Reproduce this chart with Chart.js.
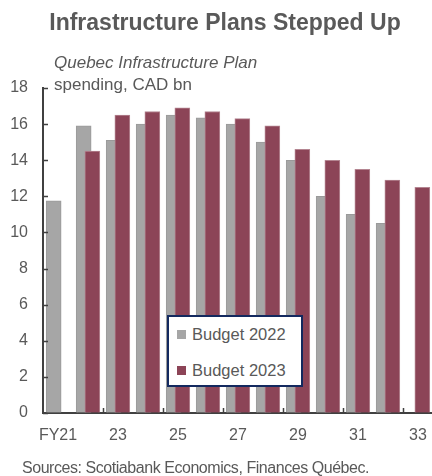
<!DOCTYPE html>
<html lang="en">
<head>
  <meta charset="UTF-8" />
  <title>Infrastructure Plans Stepped Up</title>
  <script src="https://cdn.jsdelivr.net/npm/chart.js"></script>
  <style>
    body { margin: 0; background: #fff; font-family: "Liberation Sans", Arial, sans-serif; color: #595959; }
    .wrap { position: relative; width: 432px; height: 476px; overflow: hidden; }
    canvas { position: absolute; left: 0; top: 0; }
    .title { position: absolute; left: 0; width: 450px; top: 10px; text-align: center; font-weight: bold; font-size: 23px; line-height: 24px; }
    .sub { position: absolute; left: 54px; top: 52px; font-size: 17px; line-height: 22px; }
    .sub i { display: block; }
    .source { position: absolute; left: 22px; top: 459px; font-size: 16px; line-height: 18px; letter-spacing: -0.45px; }
    .legend { position: absolute; left: 167px; top: 315px; width: 136px; height: 72px; box-sizing: border-box;
              border: 2px solid #13295f; background: #fff; z-index: 2; font-size: 16.5px; }
    .legend div { position: absolute; left: 8px; line-height: 20px; }
    .legend span { display: inline-block; width: 9px; height: 9px; margin-right: 6px; vertical-align: 1px; }
  </style>
</head>
<body>
  <div class="wrap">
    <canvas id="chart" width="440" height="476"></canvas>
    <div class="title">Infrastructure Plans Stepped Up</div>
    <div class="sub"><i>Quebec Infrastructure Plan</i>spending, CAD bn</div>
    <div class="legend" id="legend"></div>
    <div class="source">Sources: Scotiabank Economics, Finances Québec.</div>
  </div>

  <script>
    // fiscal years FY21 .. FY33
    const categories = ['FY21', '22', '23', '24', '25', '26', '27', '28', '29', '30', '31', '32', '33'];
    const budget2022 = [11.75, 15.9, 15.1, 16.0, 16.5, 16.35, 16.0, 15.0, 14.0, 12.0, 11.0, 10.5, null];
    const budget2023 = [null, 14.5, 16.5, 16.7, 16.9, 16.7, 16.3, 15.9, 14.6, 14.0, 13.5, 12.9, 12.5];
    const yTicks = [0, 2, 4, 6, 8, 10, 12, 14, 16, 18];
    const seriesNames = ['Budget 2022', 'Budget 2023'];
    const seriesColors = ['#a6a6a6', '#8c4457'];

    const FONT = '"Liberation Sans", Arial, sans-serif';
    const INK = '#595959';

    // bars overlap a bit, as in the original
    function toPoints(arr, shift) {
      return arr.map((v, i) => v == null ? null : { x: i + shift, y: v }).filter(p => p);
    }

    const axisTicks = {
      id: 'axisTicks',
      afterDraw(chart) {
        const c = chart.ctx, x = chart.scales.x, y = chart.scales.y;
        c.save();
        c.strokeStyle = '#404040';
        c.lineWidth = 1.5;
        c.beginPath();
        yTicks.forEach(v => {
          const py = Math.round(y.getPixelForValue(v)) + 0.5;
          c.moveTo(x.left, py); c.lineTo(x.left + 5, py);
        });
        for (let i = 1; i < categories.length - 1; i += 2) {
          const px = Math.round(x.getPixelForValue(i + 0.5)) + 0.5;
          c.moveTo(px, y.bottom); c.lineTo(px, y.bottom - 5);
        }
        c.stroke();
        c.restore();
      }
    };

    new Chart(document.getElementById('chart'), {
      type: 'bar',
      data: {
        datasets: [
          { label: seriesNames[0], data: toPoints(budget2022, -0.145), backgroundColor: seriesColors[0],
            borderColor: '#9a9a9a', borderWidth: 1, barThickness: 15, grouped: false, order: 2 },
          { label: seriesNames[1], data: toPoints(budget2023, 0.145), backgroundColor: seriesColors[1],
            borderColor: '#b48591', borderWidth: 1, barThickness: 15, grouped: false, order: 1 }
        ]
      },
      options: {
        responsive: false,
        animation: false,
        devicePixelRatio: 1,
        layout: { padding: { top: 88, bottom: 23, left: 0, right: 3 } },
        plugins: { legend: { display: false }, tooltip: { enabled: false } },
        scales: {
          x: {
            type: 'linear', min: -0.5, max: 12.5, offset: false,
            afterBuildTicks: s => { s.ticks = categories.map((c, i) => ({ value: i })); },
            afterFit: s => { s.height = 40; },
            ticks: {
              autoSkip: false, maxRotation: 0, padding: 13, color: INK,
              font: { family: FONT, size: 16 },
              callback: v => (v % 2 === 0 ? categories[v] : '')
            },
            grid: { drawOnChartArea: false, drawTicks: false },
            border: { display: true, color: '#404040', width: 2 }
          },
          y: {
            min: 0, max: 18,
            afterBuildTicks: s => { s.ticks = yTicks.map(v => ({ value: v })); },
            afterFit: s => { s.width = 43; },
            ticks: { padding: 15, color: INK, font: { family: FONT, size: 16 } },
            grid: { drawOnChartArea: false, drawTicks: false },
            border: { display: true, color: '#404040', width: 2 }
          }
        }
      },
      plugins: [axisTicks]
    });

    // legend boxed inside the plot
    const legend = document.getElementById('legend');
    seriesNames.forEach((name, i) => {
      const row = document.createElement('div');
      row.style.top = (i === 0 ? 7 : 43) + 'px';
      row.innerHTML = `<span style="background:${seriesColors[i]}"></span>${name}`;
      legend.appendChild(row);
    });
  </script>
</body>
</html>
